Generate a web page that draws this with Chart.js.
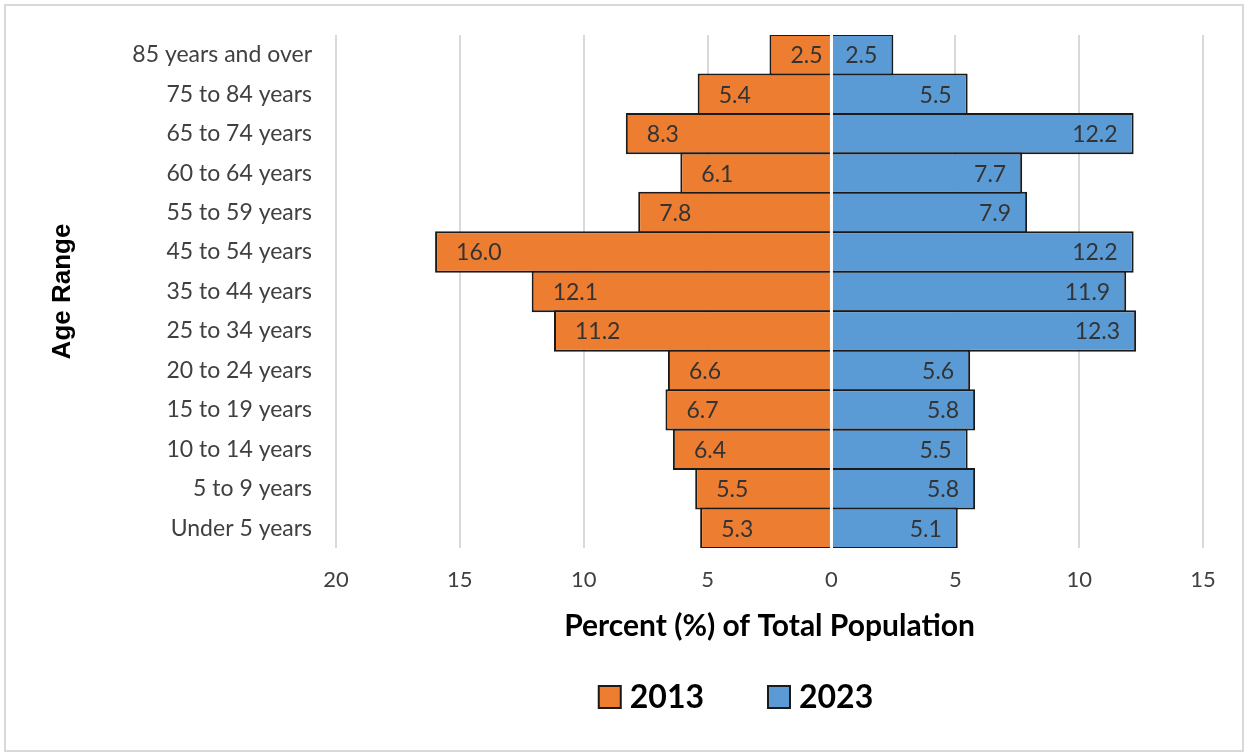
<!DOCTYPE html>
<html lang="en">
<head>
<meta charset="UTF-8">
<title>Population by Age Range</title>
<script src="https://cdn.jsdelivr.net/npm/chart.js"></script>
<style>
    body { margin: 0; background: #fff; }
    #wrap { position: relative; width: 1246px; height: 755px; }
    #frame {
        position: absolute; left: 4px; top: 4px; width: 1236px; height: 744px;
        border: 2px solid #d9d9d9; pointer-events: none;
    }
</style>
</head>
<body>
<div id="wrap">
    <canvas id="pyramid" width="1246" height="755"></canvas>
    <div id="frame"></div>
</div>
<script>
    var ageGroups = ['85 years and over', '75 to 84 years', '65 to 74 years', '60 to 64 years',
        '55 to 59 years', '45 to 54 years', '35 to 44 years', '25 to 34 years', '20 to 24 years',
        '15 to 19 years', '10 to 14 years', '5 to 9 years', 'Under 5 years'];
    var pct2013 = [2.5, 5.4, 8.3, 6.1, 7.8, 16.0, 12.1, 11.2, 6.6, 6.7, 6.4, 5.5, 5.3];
    var pct2023 = [2.5, 5.5, 12.2, 7.7, 7.9, 12.2, 11.9, 12.3, 5.6, 5.8, 5.5, 5.8, 5.1];
    var xTicks = [-20, -15, -10, -5, 0, 5, 10, 15];

    var orange = '#ED7D31';
    var blue = '#5B9BD5';
    var labelFont = '23px Lato';

    // value labels just inside the outer end of each bar
    var barLabels = {
        id: 'barLabels',
        afterDatasetsDraw: function (chart) {
            var ctx = chart.ctx;
            ctx.save();
            ctx.font = labelFont;
            ctx.fillStyle = '#333';
            ctx.textBaseline = 'middle';
            chart.data.datasets.forEach(function (ds, i) {
                var meta = chart.getDatasetMeta(i);
                meta.data.forEach(function (bar, j) {
                    var v = Math.abs(ds.data[j]).toFixed(1);
                    if (ds.data[j] < 0) {
                        ctx.textAlign = 'left';
                        ctx.fillText(v, bar.x + 21, bar.y + 1);
                    } else {
                        ctx.textAlign = 'right';
                        ctx.fillText(v, bar.x - 16, bar.y + 1);
                    }
                });
            });
            ctx.restore();
        }
    };

    // white divider along zero
    var zeroLine = {
        id: 'zeroLine',
        afterDatasetsDraw: function (chart) {
            var ctx = chart.ctx, area = chart.chartArea;
            var x0 = chart.scales.x.getPixelForValue(0);
            ctx.save();
            ctx.strokeStyle = '#fff';
            ctx.lineWidth = 3;
            ctx.beginPath();
            ctx.moveTo(x0, area.top - 1);
            ctx.lineTo(x0, area.bottom + 1);
            ctx.stroke();
            ctx.restore();
        }
    };

    // legend row under the axis title
    var bottomLegend = {
        id: 'bottomLegend',
        afterDraw: function (chart) {
            var ctx = chart.ctx;
            var items = chart.data.datasets.map(function (d) {
                return { text: d.label, color: d.backgroundColor };
            });
            ctx.save();
            ctx.font = 'bold 32px Lato';
            ctx.textBaseline = 'middle';
            ctx.textAlign = 'left';
            var box = 22, gap = 9, itemGap = 64, cy = 697;
            var total = 0;
            items.forEach(function (it, i) {
                it.w = ctx.measureText(it.text).width;
                total += box + gap + it.w + (i > 0 ? itemGap : 0);
            });
            var x = 736 - total / 2;
            items.forEach(function (it) {
                ctx.fillStyle = it.color;
                ctx.fillRect(x, cy - box / 2, box, box);
                ctx.strokeStyle = '#1a1a1a';
                ctx.lineWidth = 2;
                ctx.strokeRect(x, cy - box / 2, box, box);
                ctx.fillStyle = '#000';
                ctx.fillText(it.text, x + box + gap, cy + 1);
                x += box + gap + it.w + itemGap;
            });
            ctx.restore();
        }
    };

    var chart = new Chart(document.getElementById('pyramid'), {
        type: 'bar',
        data: {
            labels: ageGroups,
            datasets: [{
                label: '2013',
                data: pct2013.map(function (v) { return -v; }),
                backgroundColor: orange,
                borderColor: '#1a1a1a',
                borderWidth: 2
            }, {
                label: '2023',
                data: pct2023,
                backgroundColor: blue,
                borderColor: '#1a1a1a',
                borderWidth: 2
            }]
        },
        options: {
            indexAxis: 'y',
            responsive: false,
            animation: false,
            categoryPercentage: 1.05,
            barPercentage: 1,
            layout: { padding: { left: 30, right: 43, top: 35, bottom: 107 } },
            plugins: {
                legend: { display: false },
                tooltip: { enabled: false }
            },
            scales: {
                x: {
                    stacked: true,
                    min: -20,
                    max: 15,
                    afterBuildTicks: function (scale) {
                        scale.ticks = xTicks.map(function (v) { return { value: v }; });
                    },
                    afterFit: function (scale) { scale.height = 100; },
                    grid: { color: '#d9d9d9', lineWidth: 2, drawTicks: false },
                    border: { display: false },
                    ticks: {
                        padding: 19,
                        color: '#404040',
                        font: { family: 'Lato', size: 22 },
                        callback: function (v) { return Math.abs(v); }
                    },
                    title: {
                        display: true,
                        text: 'Percent (%) of Total Population',
                        color: '#000',
                        font: { family: 'Lato', size: 30, weight: 'bold' },
                        padding: { top: 0, bottom: 4 }
                    }
                },
                y: {
                    stacked: true,
                    afterFit: function (scale) { scale.width = 306; },
                    grid: { display: false },
                    border: { display: false },
                    ticks: {
                        padding: 16,
                        color: '#404040',
                        font: { family: 'Lato', size: 23 }
                    },
                    title: {
                        display: true,
                        text: 'Age Range',
                        color: '#000',
                        font: { family: 'Liberation Sans', size: 26, weight: 'bold' },
                        padding: { top: 17, bottom: 0 }
                    }
                }
            }
        },
        plugins: [barLabels, zeroLine, bottomLegend]
    });
</script>
</body>
</html>
